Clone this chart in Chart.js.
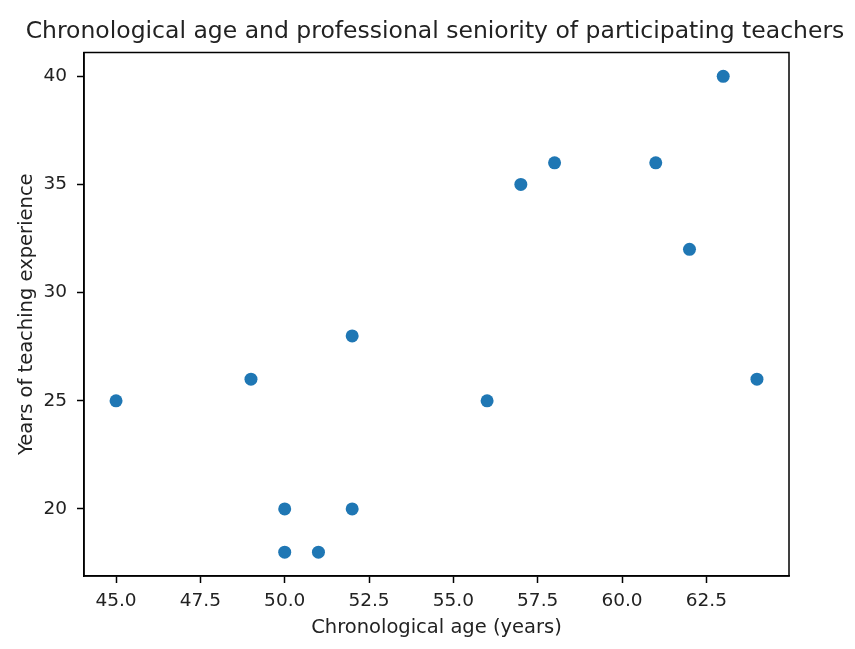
<!DOCTYPE html>
<html>
<head>
<meta charset="utf-8">
<script src="https://cdn.jsdelivr.net/npm/chart.js@4/dist/chart.umd.min.js"></script>
<style>
  html, body { margin: 0; padding: 0; background: #fff; }
  #wrap { width: 855px; height: 649px; }
</style>
</head>
<body>
<div id="wrap"><canvas id="c" width="855" height="649"></canvas></div>
<script>
// Data
const ages = [45, 49, 50, 50, 51, 52, 52, 56, 57, 58, 61, 62, 63, 64];
const experience = [25, 26, 20, 18, 18, 20, 28, 25, 35, 36, 36, 32, 40, 26];
const xTickValues = [45.0, 47.5, 50.0, 52.5, 55.0, 57.5, 60.0, 62.5];
const yTickValues = [20, 25, 30, 35, 40];
const chartTitle = 'Chronological age and professional seniority of participating teachers';
const xTitle = 'Chronological age (years)';
const yTitle = 'Years of teaching experience';

const points = ages.map((a, i) => ({ x: a, y: experience[i] }));

const FONT = 'DejaVu Sans';
const TXT = '#222';

const boxPlugin = {
  id: 'box',
  afterDatasetsDraw(chart) {
    const a = chart.chartArea, ctx = chart.ctx;
    ctx.save();
    ctx.strokeStyle = '#000';
    ctx.lineWidth = 1.5;
    ctx.strokeRect(a.left, a.top, a.right - a.left, a.bottom - a.top);
    ctx.restore();
  }
};

new Chart(document.getElementById('c'), {
  type: 'scatter',
  data: {
    datasets: [{
      data: points,
      backgroundColor: '#1f77b4',
      borderWidth: 0,
      pointRadius: 6.5,
      pointHoverRadius: 6.5
    }]
  },
  options: {
    responsive: false,
    animation: false,
    layout: { padding: { left: 15, right: 0, top: 0, bottom: 0 } },
    plugins: {
      legend: { display: false },
      tooltip: { enabled: false },
      title: {
        display: true,
        text: chartTitle,
        color: TXT,
        font: { family: FONT, size: 23.5, weight: 'normal' },
        padding: { top: 17.5, bottom: 6.8 }
      }
    },
    scales: {
      x: {
        type: 'linear',
        min: 44.05,
        max: 64.95,
        afterBuildTicks: s => { s.ticks = xTickValues.map(v => ({ value: v })); },
        afterFit: s => { s.height = 73; },
        grid: { drawOnChartArea: false, drawTicks: true, tickLength: 7, tickWidth: 1.5, tickColor: '#000' },
        border: { display: true, color: '#000', width: 1.5 },
        ticks: {
          color: TXT,
          font: { family: FONT, size: 18.5 },
          padding: 7,
          maxRotation: 0,
          autoSkip: false,
          callback: v => Number(v).toFixed(1)
        },
        title: {
          display: true,
          text: xTitle,
          color: TXT,
          font: { family: FONT, size: 19.5 },
          padding: { top: 0, bottom: 9 }
        }
      },
      y: {
        type: 'linear',
        min: 16.9,
        max: 41.1,
        afterBuildTicks: s => { s.ticks = yTickValues.map(v => ({ value: v })); },
        afterFit: s => { s.width = 69; },
        grid: { drawOnChartArea: false, drawTicks: true, tickLength: 7, tickWidth: 1.5, tickColor: '#000' },
        border: { display: true, color: '#000', width: 1.5 },
        ticks: {
          color: TXT,
          font: { family: FONT, size: 18.5 },
          padding: 10,
          autoSkip: false,
          callback: v => String(v)
        },
        title: {
          display: true,
          text: yTitle,
          color: TXT,
          font: { family: FONT, size: 19.5 },
          padding: { top: 0, bottom: 0 }
        }
      },
      yRight: {
        type: 'linear',
        position: 'right',
        display: true,
        min: 16.9,
        max: 41.1,
        afterFit: s => { s.width = 66; },
        grid: { display: false },
        border: { display: false },
        ticks: { display: false },
        title: { display: false }
      }
    }
  },
  plugins: [boxPlugin]
});
</script>
</body>
</html>
